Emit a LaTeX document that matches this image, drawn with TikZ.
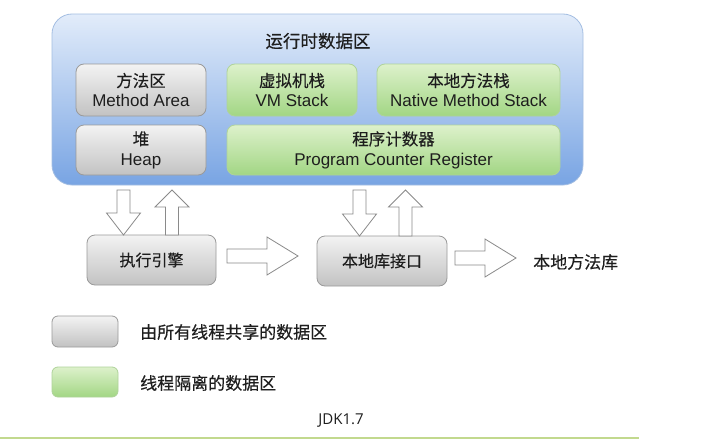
\documentclass[tikz,border=0pt]{standalone}
\usepackage{fontspec}
\setmainfont{Liberation Sans}
\newfontfamily\cjk[FakeBold=0.35]{Noto Sans CJK SC}
\newfontfamily\opensans{Open Sans}
\usetikzlibrary{calc}
\definecolor{txt}{HTML}{1E1E1E}
\definecolor{grayb}{HTML}{9A9A9A}
\definecolor{graytop}{HTML}{F3F3F3}
\definecolor{graybot}{HTML}{C2C2C2}
\definecolor{greenb}{HTML}{AFD39A}
\definecolor{greentop}{HTML}{DDF1CB}
\definecolor{greenbot}{HTML}{A2D684}
\definecolor{blueb}{HTML}{A4BEE2}
\definecolor{bluetop}{HTML}{E2ECFA}
\definecolor{bluebot}{HTML}{78A4E3}
\definecolor{arrowb}{HTML}{8A8A8A}
\definecolor{bline}{HTML}{C2D98E}
\tikzset{
  area/.style={draw=grayb, line width=0.8pt, rounded corners=8pt, text=txt, align=center,
    font=\fontsize{17}{20}\selectfont, inner sep=0pt},
  shared/.style={area, top color=graytop, bottom color=graybot},
  private/.style={area, draw=greenb, top color=greentop, bottom color=greenbot},
  hollow/.style={draw=arrowb, fill=white, line width=0.8pt, line join=miter},
  label/.style={text=txt, font=\cjk\fontsize{17}{20}\selectfont, inner sep=0pt},
}
\newcommand\jvdown[3]{% center x, top y, tip y
  \draw[hollow] (#1-6.5,#2)--(#1+6.5,#2)--(#1+6.5,#3-22)--(#1+17,#3-22)--(#1,#3)--(#1-17,#3-22)--(#1-6.5,#3-22)--cycle;}
\newcommand\jvup[3]{% center x, tip y, bottom y
  \draw[hollow] (#1,#2)--(#1+17,#2+17)--(#1+6.5,#2+17)--(#1+6.5,#3)--(#1-6.5,#3)--(#1-6.5,#2+17)--(#1-17,#2+17)--cycle;}
\newcommand\jvright[3]{% left x, tip x, center y
  \draw[hollow] (#1,#3-7)--(#2-31,#3-7)--(#2-31,#3-19)--(#2,#3)--(#2-31,#3+19)--(#2-31,#3+7)--(#1,#3+7)--cycle;}
\begin{document}
\begin{tikzpicture}[x=1pt,y=-1pt]
\useasboundingbox (0,0) rectangle (701,439);
\fill[white] (0,0) rectangle (701,439);
% runtime data area
\node[draw=blueb, line width=0.8pt, rounded corners=20pt, top color=bluetop, bottom color=bluebot,
  minimum width=531pt, minimum height=171pt, inner sep=0pt] (rt) at (317.5,99.5) {};
\node[label, font=\cjk\fontsize{17.5}{20}\selectfont] (rttitle) at (318,41) {运行时数据区};
\node[shared, minimum width=130pt, minimum height=52pt] (method) at (141,90) {{\cjk\fontsize{16.5}{20}\selectfont 方法区}\\Method Area};
\node[private, minimum width=130pt, minimum height=52pt] (vm) at (292,90) {{\cjk\fontsize{16.5}{20}\selectfont 虚拟机栈}\\VM Stack};
\node[private, minimum width=183pt, minimum height=52pt] (native) at (468.5,90) {{\cjk\fontsize{16.5}{20}\selectfont 本地方法栈}\\Native Method Stack};
\node[shared, minimum width=130pt, minimum height=50pt] (heap) at (141,150) {{\cjk\fontsize{16.5}{20}\selectfont 堆}\\Heap};
\node[private, minimum width=333pt, minimum height=50pt] (pc) at (393.5,150) {{\cjk\fontsize{16.5}{20}\selectfont 程序计数器}\\Program Counter Register};
% execution engine and native interface
\node[shared, minimum width=129pt, minimum height=50pt, font=\cjk\fontsize{16}{19}\selectfont] (exec) at (151.5,260) {执行引擎};
\node[shared, minimum width=130pt, minimum height=50pt, font=\cjk\fontsize{16}{19}\selectfont] (jni) at (382,261) {本地库接口};
\node[label, anchor=west] (lib) at (533,262) {本地方法库};
% hollow arrows
\jvdown{123.5}{190}{235}
\jvup{172}{190}{235}
\jvdown{359.5}{190}{236}
\jvup{405.5}{190}{236}
\jvright{227}{298}{256}
\jvright{455}{516}{258}
% legend
\node[shared, rounded corners=6pt, minimum width=66pt, minimum height=31pt] (lgshared) at (85,331.5) {};
\node[label, anchor=west] (lgsharedt) at (140,332) {由所有线程共享的数据区};
\node[private, rounded corners=6pt, minimum width=66pt, minimum height=30pt] (lgpriv) at (85,382) {};
\node[label, anchor=west] (lgprivt) at (140,383) {线程隔离的数据区};
\node[text=txt, font=\opensans\fontsize{15}{18}\selectfont, inner sep=0pt] (jdk) at (341,421) {JDK1.7};
\draw[bline, line width=2pt] (0,437.5) -- (639,437.5);
\end{tikzpicture}
\end{document}
